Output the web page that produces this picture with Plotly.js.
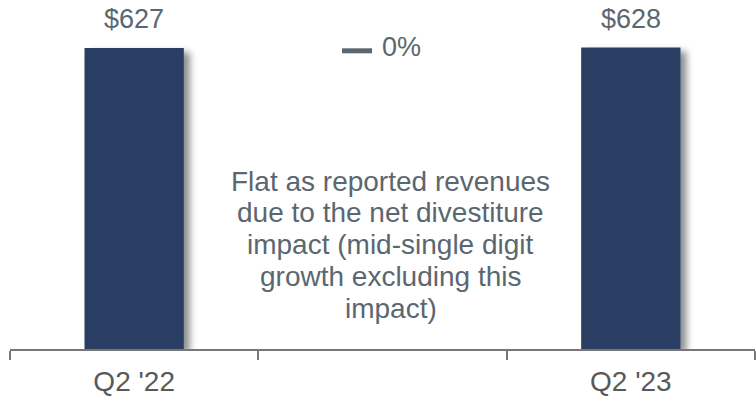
<!DOCTYPE html>
<html>
<head>
<meta charset="utf-8">
<script src="https://cdn.plot.ly/plotly-3.0.1.min.js"></script>
<style>
  html, body { margin: 0; padding: 0; background: #ffffff; }
  #chart { width: 756px; height: 400px; }
</style>
</head>
<body>
<div id="chart"></div>
<script>
// ---- data ----
var categories = ["Q2 '22", " ", "Q2 '23"];
var revenues = [627, null, 628];
var barLabels = ["$627", "", "$628"];
var changeLabel = "0%";
var noteLines = [
  "Flat as reported revenues",
  "due to the net divestiture",
  "impact (mid-single digit",
  "growth excluding this",
  "impact)"
];

// ---- styling ----
var barColor = "#2c3e63";
var textColor = "#5b6770";
var plotH = 349; // plot area height in px (margin top 0)

var annotations = [];
categories.forEach(function (c, i) {
  if (revenues[i] !== null) {
    annotations.push({
      x: c, y: revenues[i], xref: "x", yref: "y",
      text: barLabels[i], showarrow: false,
      yanchor: "bottom", yshift: 12,
      font: { family: "Liberation Sans, Arial, sans-serif", size: 27, color: textColor }
    });
  }
});
// change indicator
annotations.push({
  x: categories[1], y: 1 - 47 / plotH, xref: "x", yref: "paper",
  text: changeLabel, showarrow: false, xanchor: "left", xshift: -3, yanchor: "middle",
  font: { family: "Liberation Sans, Arial, sans-serif", size: 27, color: textColor }
});
// note lines
var firstBaseline = 191, lineGap = 31.8;
noteLines.forEach(function (t, k) {
  annotations.push({
    x: categories[1], y: 1 - (firstBaseline + k * lineGap - 10) / plotH,
    xref: "x", yref: "paper", xshift: 8,
    text: t, showarrow: false, yanchor: "middle",
    font: { family: "Liberation Sans, Arial, sans-serif", size: 28, color: textColor }
  });
});

var trace = {
  type: "bar",
  x: categories,
  y: revenues,
  width: 0.4,
  marker: { color: barColor, line: { width: 0 } },
  hoverinfo: "skip"
};

var layout = {
  width: 756, height: 400,
  margin: { l: 10, r: 1, t: 0, b: 51 },
  paper_bgcolor: "#ffffff", plot_bgcolor: "#ffffff",
  showlegend: false,
  xaxis: {
    type: "category",
    categoryorder: "array", categoryarray: categories,
    range: [-0.5, 2.5],
    showline: true, linecolor: "#777777", linewidth: 2,
    ticks: "outside", tickson: "boundaries", ticklen: 9, tickwidth: 2, tickcolor: "#777777",
    ticklabelstandoff: 6,
    showgrid: false, zeroline: false,
    tickfont: { family: "Liberation Sans, Arial, sans-serif", size: 28, color: "#595959" }
  },
  yaxis: {
    range: [0, 727], visible: false, showgrid: false, zeroline: false, fixedrange: true
  },
  shapes: [{
    type: "line", xref: "x", yref: "paper",
    x0: 1 - 0.163, x1: 1 - 0.042,
    y0: 1 - 50.8 / plotH, y1: 1 - 50.8 / plotH,
    line: { color: textColor, width: 5 }
  }],
  annotations: annotations,
  bargap: 0.6
};

Plotly.newPlot("chart", [trace], layout, { displayModeBar: false, staticPlot: true }).then(function (gd) {
  var svg = gd.querySelector("svg.main-svg");
  var ns = "http://www.w3.org/2000/svg";
  var defs = svg.querySelector("defs") || svg.insertBefore(document.createElementNS(ns, "defs"), svg.firstChild);
  var f = document.createElementNS(ns, "filter");
  f.setAttribute("id", "barShadow");
  f.setAttribute("x", "-10%"); f.setAttribute("y", "-10%");
  f.setAttribute("width", "140%"); f.setAttribute("height", "120%");
  f.innerHTML =
    '<feGaussianBlur in="SourceAlpha" stdDeviation="3.5"/>' +
    '<feOffset dx="6" dy="4" result="ob"/>' +
    '<feComponentTransfer><feFuncA type="linear" slope="0.45"/></feComponentTransfer>' +
    '<feMerge><feMergeNode/><feMergeNode in="SourceGraphic"/></feMerge>';
  defs.appendChild(f);
  gd.querySelectorAll(".trace.bars .point path").forEach(function (p) {
    p.setAttribute("filter", "url(#barShadow)");
  });
});
</script>
</body>
</html>
